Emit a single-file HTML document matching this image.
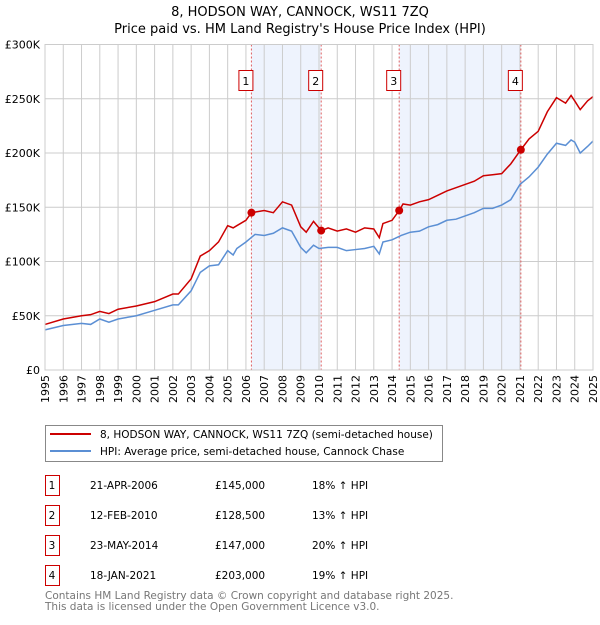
<!DOCTYPE html>
<html><head><meta charset="utf-8"><style>
body{margin:0;background:#fff;font-family:"Liberation Sans","DejaVu Sans",sans-serif;}
svg text{font-family:"DejaVu Sans","Liberation Sans",sans-serif;}
</style></head><body>
<svg width="600" height="620" xmlns="http://www.w3.org/2000/svg">
<text x="300" y="16" text-anchor="middle" font-size="13">8, HODSON WAY, CANNOCK, WS11 7ZQ</text>
<text x="300" y="33" text-anchor="middle" font-size="13">Price paid vs. HM Land Registry's House Price Index (HPI)</text>
<g id="plot"></g>
<g>
<rect x="45.5" y="425.5" width="397" height="36" fill="#fff" stroke="#888"/>
<line x1="50" y1="434" x2="91" y2="434" stroke="#cc0000" stroke-width="2"/>
<text x="100" y="438" font-size="10.5">8, HODSON WAY, CANNOCK, WS11 7ZQ (semi-detached house)</text>
<line x1="50" y1="451" x2="91" y2="451" stroke="#5b8fd4" stroke-width="2"/>
<text x="100" y="455" font-size="10.5">HPI: Average price, semi-detached house, Cannock Chase</text>
</g>
<g id="table"></g>
<text x="45" y="599" font-size="10.5" fill="#777">Contains HM Land Registry data © Crown copyright and database right 2025.</text>
<text x="45" y="610" font-size="10.5" fill="#777">This data is licensed under the Open Government Licence v3.0.</text>
</svg>
<script>
const hpiYears=[1995,1996,1997,1997.5,1998,1998.5,1999,2000,2001,2002,2002.3,2003,2003.5,2004,2004.5,2005,2005.3,2005.5,2006,2006.5,2007,2007.5,2008,2008.5,2009,2009.3,2009.7,2010,2010.5,2011,2011.5,2012,2012.5,2013,2013.3,2013.5,2014,2014.5,2015,2015.5,2016,2016.5,2017,2017.5,2018,2018.5,2019,2019.5,2020,2020.5,2021,2021.5,2022,2022.5,2023,2023.5,2023.8,2024,2024.3,2024.7,2025];
const hpiValues=[37,41,43,42,47,44,47,50,55,60,60,73,90,96,97,110,106,112,118,125,124,126,131,128,113,108,115,112,113,113,110,111,112,114,107,118,120,124,127,128,132,134,138,139,142,145,149,149,152,157,171,178,187,199,209,207,212,210,200,206,211];
const redYears=[1995,1996,1997,1997.5,1998,1998.5,1999,2000,2001,2002,2002.3,2003,2003.5,2004,2004.5,2005,2005.3,2005.5,2006,2006.3,2007,2007.5,2008,2008.5,2009,2009.3,2009.7,2010.12,2010.5,2011,2011.5,2012,2012.5,2013,2013.3,2013.5,2014,2014.39,2014.6,2015,2015.5,2016,2016.5,2017,2017.5,2018,2018.5,2019,2019.5,2020,2020.5,2021.05,2021.5,2022,2022.5,2023,2023.5,2023.8,2024,2024.3,2024.7,2025];
const redValues=[42,47,50,51,54,52,56,59,63,70,70,84,105,110,118,133,131,133,138,145,147,145,155,152,132,127,137,128.5,131,128,130,127,131,130,122,135,138,147,153,152,155,157,161,165,168,171,174,179,180,181,190,203,213,220,238,251,246,253,248,240,248,252];
const saleDates=[2006.3,2010.12,2014.39,2021.05];
const salePrices=[145,128.5,147,203];
const saleLabels=["1","2","3","4"];
const saleDateText=["21-APR-2006","12-FEB-2010","23-MAY-2014","18-JAN-2021"];
const salePriceText=["£145,000","£128,500","£147,000","£203,000"];
const saleHpiText=["18% ↑ HPI","13% ↑ HPI","20% ↑ HPI","19% ↑ HPI"];
const yTicks=[0,50,100,150,200,250,300];
const yTickLabels=["£0","£50K","£100K","£150K","£200K","£250K","£300K"];
const xTicks=[1995,1996,1997,1998,1999,2000,2001,2002,2003,2004,2005,2006,2007,2008,2009,2010,2011,2012,2013,2014,2015,2016,2017,2018,2019,2020,2021,2022,2023,2024,2025];

const NS="http://www.w3.org/2000/svg";
const X0=45,X1=593,Y0=370,Y1=44.5;
const x=v=>X0+(v-1995)/30*(X1-X0);
const y=v=>Y0-v/300*(Y0-Y1);
function mk(tag,attrs,parent){const e=document.createElementNS(NS,tag);for(const k in attrs)e.setAttribute(k,attrs[k]);parent.appendChild(e);return e;}
const plot=document.getElementById('plot');
for(let i=0;i<saleDates.length;i+=2){
 const r=mk('rect',{x:x(saleDates[i]),y:Y1,width:x(saleDates[i+1])-x(saleDates[i]),height:Y0-Y1,fill:'#eef3fd'},plot);
 
 
}
xTicks.forEach(t=>{
 const l=mk('line',{x1:x(t),x2:x(t),y1:Y1,y2:Y0,stroke:'#ccc','stroke-width':1},plot);
 
 
 const tx=mk('text',{transform:`translate(${x(t)+4},${Y0+5}) rotate(-90)`,'text-anchor':'end','font-size':11},plot);
 tx.textContent=t;
 
 
});
yTicks.forEach((t,i)=>{
 const l=mk('line',{x1:X0,x2:X1,y1:y(t),y2:y(t),stroke:'#ccc','stroke-width':1},plot);
 
 
 const tx=mk('text',{x:40,y:y(t)+4,'text-anchor':'end','font-size':11},plot);
 tx.textContent=yTickLabels[i];
 
 
});
saleDates.forEach((d,i)=>{
 const l=mk('line',{x1:x(d),x2:x(d),y1:Y1,y2:Y0,stroke:'#e06060','stroke-width':1,'stroke-dasharray':'2,2'},plot);
 
 
});
const hp=mk('polyline',{points:hpiYears.map((t,i)=>x(t)+','+y(hpiValues[i])).join(' '),fill:'none',stroke:'#5b8fd4','stroke-width':1.5},plot);


const rp=mk('polyline',{points:redYears.map((t,i)=>x(t)+','+y(redValues[i])).join(' '),fill:'none',stroke:'#cc0000','stroke-width':1.5},plot);


saleDates.forEach((d,i)=>{
 const c=mk('circle',{cx:x(d),cy:y(salePrices[i]),r:4,fill:'#cc0000'},plot);
 
 
 const b=mk('rect',{x:x(d)-12.5,y:70.5,width:14,height:20,fill:'#fff',stroke:'#cc0000'},plot);
 
 
 const t=mk('text',{x:x(d)-5.5,y:85,'text-anchor':'middle','font-size':11},plot);
 t.textContent=saleLabels[i];
 
 
});
const fr=mk('rect',{x:X0,y:Y1,width:X1-X0,height:Y0-Y1,fill:'none',stroke:'#ccc'},plot);


const tb=document.getElementById('table');
saleDates.forEach((d,i)=>{
 const yy=475+i*30;
 const b=mk('rect',{x:45.5,y:yy+0.5,width:14,height:20,fill:'#fff',stroke:'#cc0000'},tb);
 
 
 const cols=[[52,saleLabels[i],'middle'],[90,saleDateText[i],'start'],[215,salePriceText[i],'start'],[312,saleHpiText[i],'start']];
 cols.forEach((c,j)=>{
  const t=mk('text',{x:c[0],y:yy+14,'text-anchor':c[2],'font-size':10.5},tb);
  t.textContent=c[1];
  
  
 });
});
</script>
</body></html>
